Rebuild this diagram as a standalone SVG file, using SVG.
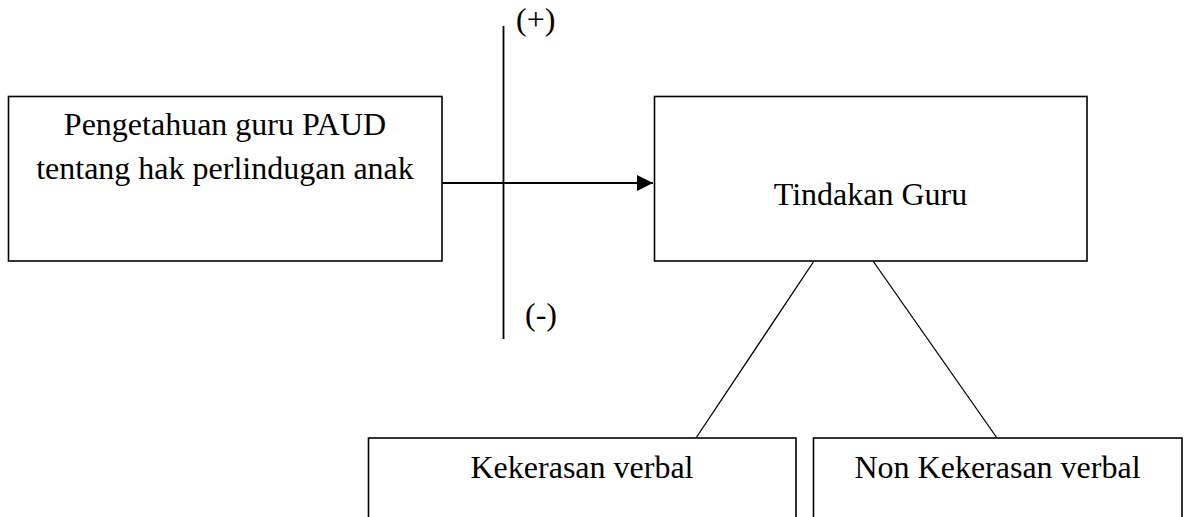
<svg xmlns="http://www.w3.org/2000/svg" width="1189" height="517" viewBox="0 0 1189 517">
  <style>
    .box { fill: #ffffff; stroke: #000000; stroke-width: 1.6; }
    .label { font-family: "Liberation Serif", "Times New Roman", serif; font-size: 32px; fill: #000000; }
    .mid { text-anchor: middle; }
    .conn { stroke: #000000; fill: none; }
  </style>
  <defs>
    <marker id="arrowhead" viewBox="0 0 16 16" refX="16" refY="8" markerWidth="16" markerHeight="16" markerUnits="userSpaceOnUse" orient="auto">
      <path d="M0,0 L16,8 L0,16 Z" fill="#000000"/>
    </marker>
  </defs>
  <rect width="1189" height="517" fill="#ffffff"/>

  <g id="connectors">
    <line class="conn" x1="442" y1="183" x2="653" y2="183" stroke-width="2" marker-end="url(#arrowhead)"/>
    <line class="conn" x1="503.5" y1="26" x2="503.5" y2="339" stroke-width="1.8"/>
    <line class="conn" x1="814" y1="261" x2="696" y2="438" stroke-width="1.3"/>
    <line class="conn" x1="873" y1="261" x2="997" y2="438" stroke-width="1.3"/>
    <text class="label" x="516" y="30">(+)</text>
    <text class="label" x="525" y="325">(-)</text>
  </g>

  <g id="node-pengetahuan">
    <rect class="box" x="8.5" y="96.5" width="433.5" height="164.5"/>
    <text class="label mid" x="225" y="135">Pengetahuan guru PAUD</text>
    <text class="label mid" x="225" y="179">tentang hak perlindugan anak</text>
  </g>

  <g id="node-tindakan">
    <rect class="box" x="654.5" y="96.5" width="432.5" height="164.5"/>
    <text class="label mid" x="870.5" y="205">Tindakan Guru</text>
  </g>

  <g id="node-kekerasan">
    <rect class="box" x="368.5" y="438" width="427.5" height="100"/>
    <text class="label mid" x="582" y="478">Kekerasan verbal</text>
  </g>

  <g id="node-non-kekerasan">
    <rect class="box" x="813.5" y="438" width="368.5" height="100"/>
    <text class="label mid" x="997.5" y="478">Non Kekerasan verbal</text>
  </g>
</svg>
